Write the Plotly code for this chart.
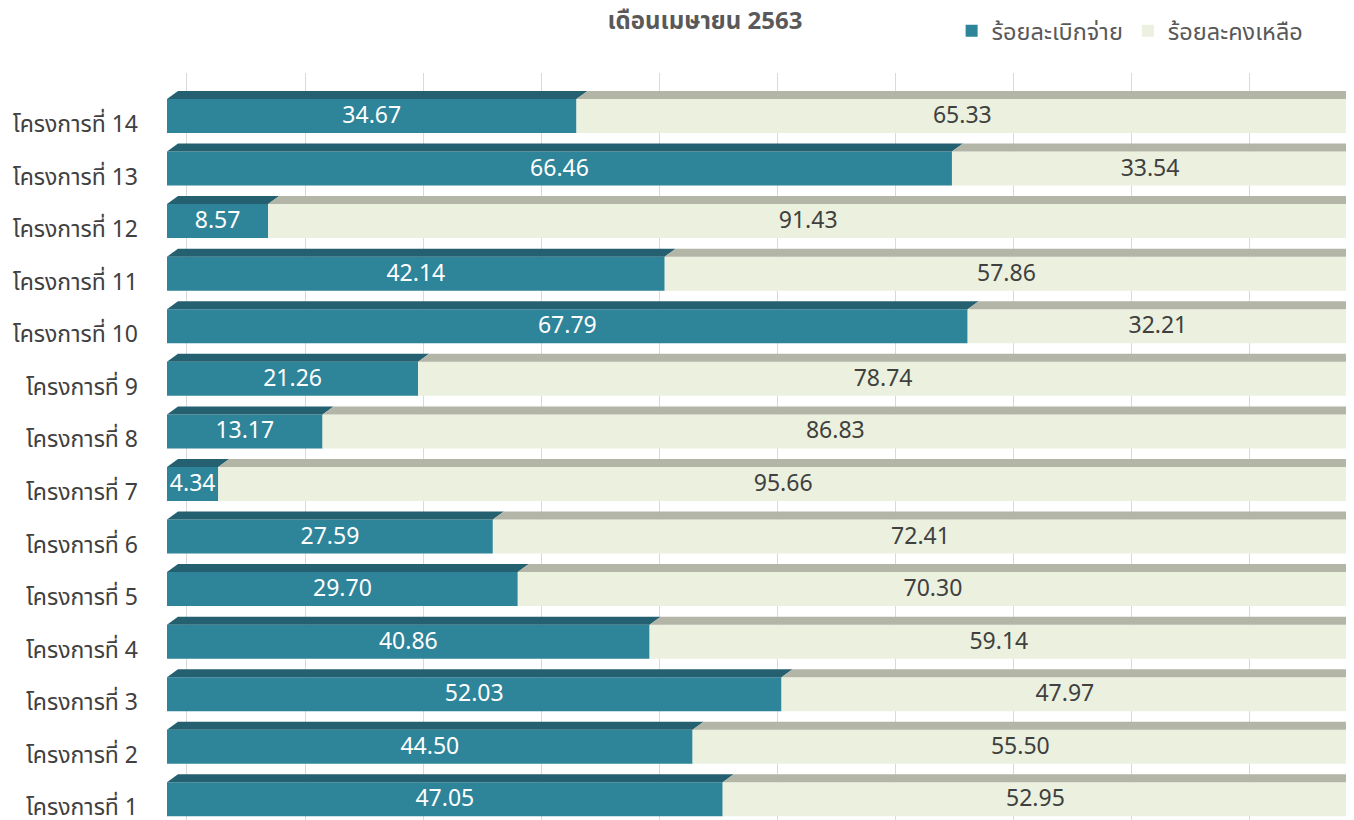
import plotly.graph_objects as go

# ---- data ----
categories = ["โครงการที่ 1", "โครงการที่ 2", "โครงการที่ 3", "โครงการที่ 4", "โครงการที่ 5",
              "โครงการที่ 6", "โครงการที่ 7", "โครงการที่ 8", "โครงการที่ 9", "โครงการที่ 10",
              "โครงการที่ 11", "โครงการที่ 12", "โครงการที่ 13", "โครงการที่ 14"]
disbursed = [47.05, 44.50, 52.03, 40.86, 29.70, 27.59, 4.34, 13.17, 21.26, 67.79, 42.14, 8.57, 66.46, 34.67]
remaining = [52.95, 55.50, 47.97, 59.14, 70.30, 72.41, 95.66, 86.83, 78.74, 32.21, 57.86, 91.43, 33.54, 65.33]
grid_ticks = [0, 10, 20, 30, 40, 50, 60, 70, 80, 90]
series_names = ["ร้อยละเบิกจ่าย", "ร้อยละคงเหลือ"]
title_text = "เดือนเมษายน 2563"

# ---- style / geometry ----
FONT = "Tahoma, 'Noto Sans Thai', 'Noto Sans', 'DejaVu Sans', sans-serif"
BLUE, BLUE_TOP = "#2E8499", "#24606F"
GREY, GREY_TOP, GREY_SIDE = "#EBF1DE", "#B3B5A7", "#A2A494"
BAR_LOW, BAR_W = -0.171, 0.647      # front face, in category units
DX, DY = 0.93, 0.152                # 3D depth (x in value units, y in category units)
GRID_SHIFT = 1.69                   # back-wall gridline shift

# page body has an 8px margin, so the figure is sized to end at the window edge
FIG_W, FIG_H = 1346, 812

pos = list(range(1, len(categories) + 1))

fig = go.Figure()
fig.add_trace(go.Bar(
    y=pos, x=disbursed, base=[0] * len(pos), orientation="h", name=series_names[0],
    width=BAR_W, offset=BAR_LOW, marker=dict(color=BLUE, line=dict(width=0)),
    text=disbursed, texttemplate="%{x:.2f}", textposition="inside", insidetextanchor="middle",
    textangle=0, constraintext="none",
    textfont=dict(color="white", size=23, family=FONT),
))
fig.add_trace(go.Bar(
    y=pos, x=remaining, base=disbursed, orientation="h", name=series_names[1],
    width=BAR_W, offset=BAR_LOW, marker=dict(color=GREY, line=dict(width=0)),
    text=remaining, texttemplate="%{x:.2f}", textposition="inside", insidetextanchor="middle",
    textangle=0, constraintext="none",
    textfont=dict(color="#404040", size=23, family=FONT),
))

shapes = []
for k, b, r in zip(pos, disbursed, remaining):
    yb = k + BAR_LOW
    yt = yb + BAR_W
    t = b + r
    shapes.append(dict(type="path", xref="x", yref="y", layer="above", line=dict(width=0),
                       fillcolor=BLUE_TOP,
                       path=f"M 0,{yt} L {b},{yt} L {b + DX},{yt + DY} L {DX},{yt + DY} Z"))
    shapes.append(dict(type="path", xref="x", yref="y", layer="above", line=dict(width=0),
                       fillcolor=GREY_TOP,
                       path=f"M {b},{yt} L {t},{yt} L {t + DX},{yt + DY} L {b + DX},{yt + DY} Z"))
    shapes.append(dict(type="path", xref="x", yref="y", layer="above", line=dict(width=0),
                       fillcolor=GREY_SIDE,
                       path=f"M {t},{yb} L {t + DX},{yb + DY} L {t + DX},{yt + DY} L {t},{yt} Z"))

fig.update_layout(
    width=FIG_W, height=FIG_H,
    margin=dict(l=159, r=0, t=65, b=0, autoexpand=False),
    barmode="overlay",
    paper_bgcolor="white", plot_bgcolor="white",
    font=dict(family=FONT, color="#595959"),
    title=dict(text=f"<b>{title_text}</b>", x=697 / FIG_W, xanchor="center",
               y=1 - 13 / FIG_H, yanchor="middle",
               font=dict(size=24, color="#595959", family=FONT)),
    legend=dict(orientation="h", x=0.661, xanchor="left", y=1.0562, yanchor="middle",
                font=dict(size=23.5, color="#595959", family=FONT),
                itemwidth=30, bgcolor="rgba(0,0,0,0)", traceorder="normal"),
    shapes=shapes,
    showlegend=True,
)
fig.update_xaxes(range=[0, 100.5], tickvals=[g + GRID_SHIFT for g in grid_ticks],
                 showticklabels=False, showgrid=True, gridcolor="#D9D9D9", gridwidth=1,
                 zeroline=False, ticks="", showline=False, fixedrange=True)
fig.update_yaxes(range=[0.760, 14.970], tickvals=pos, ticktext=categories,
                 showgrid=False, zeroline=False, ticks="", showline=False, automargin=False,
                 tickfont=dict(size=23, color="#404040", family=FONT),
                 ticklabelstandoff=28, ticklabeloverflow="allow", fixedrange=True)

fig.write_html("out.html")
